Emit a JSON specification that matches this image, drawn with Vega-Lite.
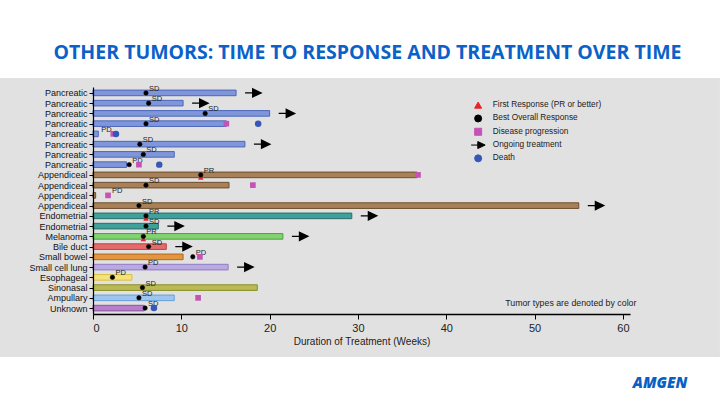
{
  "$schema": "https://vega.github.io/schema/vega-lite/v6.json",
  "width": 537,
  "height": 227,
  "autosize": {"type": "none"},
  "padding": {"left": 93, "top": 87, "right": 90, "bottom": 91},
  "background": "white",
  "title": {
    "text": "OTHER TUMORS: TIME TO RESPONSE AND TREATMENT OVER TIME",
    "font": "Open Sans", "fontSize": 19.5, "fontWeight": "bold", "color": "#0a62c8",
    "anchor": "middle", "frame": "group", "baseline": "alphabetic", "offset": 0, "dx": 6
  },
  "config": {
    "view": {"stroke": null},
    "font": "Liberation Sans",
    "axisX": {
      "labelFont": "Liberation Sans", "labelFontSize": 11, "labelColor": "#222",
      "titleFont": "Liberation Sans", "titleFontSize": 10, "titleFontWeight": "normal", "titleColor": "#222",
      "tickSize": 5, "tickColor": "#000", "domainColor": "#000", "domainWidth": 1.5,
      "labelPadding": 3, "titlePadding": 3, "grid": false
    },
    "axisY": {
      "labelFont": "Liberation Sans", "labelFontSize": 9, "labelColor": "#111",
      "tickSize": 4, "tickColor": "#000", "domainColor": "#000", "domainWidth": 1.2,
      "labelPadding": 2, "grid": false, "labelOverlap": false, "labelBound": false, "labelFlush": false
    },
    "legend": {
      "labelFont": "Liberation Sans", "labelFontSize": 8.3, "labelColor": "#222",
      "symbolStrokeWidth": 1, "rowPadding": 1.3, "labelOffset": 10.5, "padding": 0, "symbolSize": 49
    }
  },
  "datasets": {
    "bars": [
      {"row": 1, "tumor": "Pancreatic", "week": 16.2},
      {"row": 2, "tumor": "Pancreatic", "week": 10.2},
      {"row": 3, "tumor": "Pancreatic", "week": 20.0},
      {"row": 4, "tumor": "Pancreatic", "week": 15.1},
      {"row": 5, "tumor": "Pancreatic", "week": 0.6},
      {"row": 6, "tumor": "Pancreatic", "week": 17.2},
      {"row": 7, "tumor": "Pancreatic", "week": 9.2},
      {"row": 8, "tumor": "Pancreatic", "week": 3.8},
      {"row": 9, "tumor": "Appendiceal", "week": 36.7},
      {"row": 10, "tumor": "Appendiceal", "week": 15.4},
      {"row": 11, "tumor": "Appendiceal", "week": 0.3},
      {"row": 12, "tumor": "Appendiceal", "week": 55.0},
      {"row": 13, "tumor": "Endometrial", "week": 29.3},
      {"row": 14, "tumor": "Endometrial", "week": 7.4},
      {"row": 15, "tumor": "Melanoma", "week": 21.5},
      {"row": 16, "tumor": "Bile duct", "week": 8.3},
      {"row": 17, "tumor": "Small bowel", "week": 10.2},
      {"row": 18, "tumor": "Small cell lung", "week": 15.3},
      {"row": 19, "tumor": "Esophageal", "week": 4.4},
      {"row": 20, "tumor": "Sinonasal", "week": 18.6},
      {"row": 21, "tumor": "Ampullary", "week": 9.2},
      {"row": 22, "tumor": "Unknown", "week": 5.8}
    ],
    "labels": [
      {"row": 1, "label": "SD", "week": 6.0},
      {"row": 2, "label": "SD", "week": 6.3},
      {"row": 3, "label": "SD", "week": 12.7},
      {"row": 4, "label": "SD", "week": 6.0},
      {"row": 5, "label": "PD", "week": 0.6},
      {"row": 6, "label": "SD", "week": 5.3},
      {"row": 7, "label": "SD", "week": 5.7},
      {"row": 8, "label": "PD", "week": 4.1},
      {"row": 9, "label": "PR", "week": 12.2},
      {"row": 10, "label": "SD", "week": 6.0},
      {"row": 11, "label": "PD", "week": 1.8},
      {"row": 12, "label": "SD", "week": 5.2},
      {"row": 13, "label": "PR", "week": 6.0},
      {"row": 14, "label": "SD", "week": 6.0},
      {"row": 15, "label": "PR", "week": 5.7},
      {"row": 16, "label": "SD", "week": 6.3},
      {"row": 17, "label": "PD", "week": 11.3},
      {"row": 18, "label": "PD", "week": 5.9},
      {"row": 19, "label": "PD", "week": 2.2},
      {"row": 20, "label": "SD", "week": 5.6},
      {"row": 21, "label": "SD", "week": 5.2},
      {"row": 22, "label": "SD", "week": 5.9}
    ],
    "events": [
      {"row": 9, "event": "First Response (PR or better)", "week": 12.2},
      {"row": 13, "event": "First Response (PR or better)", "week": 6.0},
      {"row": 15, "event": "First Response (PR or better)", "week": 5.7},
      {"row": 1, "event": "Best Overall Response", "week": 6.0},
      {"row": 2, "event": "Best Overall Response", "week": 6.3},
      {"row": 3, "event": "Best Overall Response", "week": 12.7},
      {"row": 4, "event": "Best Overall Response", "week": 6.0},
      {"row": 6, "event": "Best Overall Response", "week": 5.3},
      {"row": 7, "event": "Best Overall Response", "week": 5.7},
      {"row": 8, "event": "Best Overall Response", "week": 4.1},
      {"row": 9, "event": "Best Overall Response", "week": 12.2},
      {"row": 10, "event": "Best Overall Response", "week": 6.0},
      {"row": 12, "event": "Best Overall Response", "week": 5.2},
      {"row": 13, "event": "Best Overall Response", "week": 6.0},
      {"row": 14, "event": "Best Overall Response", "week": 6.0},
      {"row": 15, "event": "Best Overall Response", "week": 5.7},
      {"row": 16, "event": "Best Overall Response", "week": 6.3},
      {"row": 17, "event": "Best Overall Response", "week": 11.3},
      {"row": 18, "event": "Best Overall Response", "week": 5.9},
      {"row": 19, "event": "Best Overall Response", "week": 2.2},
      {"row": 20, "event": "Best Overall Response", "week": 5.6},
      {"row": 21, "event": "Best Overall Response", "week": 5.2},
      {"row": 22, "event": "Best Overall Response", "week": 5.9},
      {"row": 4, "event": "Disease progression", "week": 15.1},
      {"row": 5, "event": "Disease progression", "week": 2.3},
      {"row": 8, "event": "Disease progression", "week": 5.2},
      {"row": 9, "event": "Disease progression", "week": 36.8},
      {"row": 10, "event": "Disease progression", "week": 18.1},
      {"row": 11, "event": "Disease progression", "week": 1.7},
      {"row": 17, "event": "Disease progression", "week": 12.1},
      {"row": 21, "event": "Disease progression", "week": 11.9},
      {"row": 1, "event": "Ongoing treatment", "week": 16.2},
      {"row": 2, "event": "Ongoing treatment", "week": 10.2},
      {"row": 3, "event": "Ongoing treatment", "week": 20.0},
      {"row": 6, "event": "Ongoing treatment", "week": 17.2},
      {"row": 12, "event": "Ongoing treatment", "week": 55.0},
      {"row": 13, "event": "Ongoing treatment", "week": 29.3},
      {"row": 14, "event": "Ongoing treatment", "week": 7.4},
      {"row": 15, "event": "Ongoing treatment", "week": 21.5},
      {"row": 16, "event": "Ongoing treatment", "week": 8.3},
      {"row": 18, "event": "Ongoing treatment", "week": 15.3},
      {"row": 4, "event": "Death", "week": 18.7},
      {"row": 5, "event": "Death", "week": 2.6},
      {"row": 8, "event": "Death", "week": 7.5},
      {"row": 22, "event": "Death", "week": 6.9}
    ]
  },
  "layer": [
    {
      "data": {"values": [{"note": "Tumor types are denoted by color", "logo": "AMGEN"}]},
      "layer": [
        {
          "mark": {"type": "rect", "fill": "#e1e1e1"},
          "encoding": {
            "x": {"datum": -10.53, "type": "quantitative", "title": "Duration of Treatment (Weeks)", "scale": {"domain": [0, 60.8], "nice": false, "zero": false, "padding": 0}, "axis": {"orient": "bottom", "zindex": 2, "values": [0, 10, 20, 30, 40, 50, 60]}},
            "x2": {"datum": 70.98},
            "y": {"datum": -0.454, "type": "quantitative", "title": null, "scale": {"domain": [0.424, 22.576], "reverse": true, "nice": false, "zero": false, "padding": 0}, "axis": {"orient": "left", "zindex": 2, "values": [1,2,3,4,5,6,7,8,9,10,11,12,13,14,15,16,17,18,19,20,21,22], "labelExpr": "['Pancreatic','Pancreatic','Pancreatic','Pancreatic','Pancreatic','Pancreatic','Pancreatic','Pancreatic','Appendiceal','Appendiceal','Appendiceal','Appendiceal','Endometrial','Endometrial','Melanoma','Bile duct','Small bowel','Small cell lung','Esophageal','Sinonasal','Ampullary','Unknown'][datum.value - 1]"}},
            "y2": {"datum": 26.77}
          }
        },
        {
          "mark": {"type": "text", "fontSize": 8.8, "color": "#222", "font": "Liberation Sans", "baseline": "middle", "align": "center"},
          "encoding": {
            "x": {"datum": 54.1, "type": "quantitative", "title": "Duration of Treatment (Weeks)", "scale": {"domain": [0, 60.8], "nice": false, "zero": false, "padding": 0}, "axis": {"orient": "bottom", "zindex": 2, "values": [0, 10, 20, 30, 40, 50, 60]}},
            "y": {"datum": 21.5, "type": "quantitative", "title": null, "scale": {"domain": [0.424, 22.576], "reverse": true, "nice": false, "zero": false, "padding": 0}, "axis": {"orient": "left", "zindex": 2, "values": [1,2,3,4,5,6,7,8,9,10,11,12,13,14,15,16,17,18,19,20,21,22], "labelExpr": "['Pancreatic','Pancreatic','Pancreatic','Pancreatic','Pancreatic','Pancreatic','Pancreatic','Pancreatic','Appendiceal','Appendiceal','Appendiceal','Appendiceal','Endometrial','Endometrial','Melanoma','Bile duct','Small bowel','Small cell lung','Esophageal','Sinonasal','Ampullary','Unknown'][datum.value - 1]"}},
            "text": {"field": "note"}
          }
        },
        {
          "mark": {"type": "text", "fontSize": 15, "color": "#0a5fc4", "font": "Open Sans", "fontWeight": 800, "fontStyle": "italic", "baseline": "middle", "align": "center"},
          "encoding": {
            "x": {"datum": 64.2, "type": "quantitative", "title": "Duration of Treatment (Weeks)", "scale": {"domain": [0, 60.8], "nice": false, "zero": false, "padding": 0}, "axis": {"orient": "bottom", "zindex": 2, "values": [0, 10, 20, 30, 40, 50, 60]}},
            "y": {"datum": 29.3, "type": "quantitative", "title": null, "scale": {"domain": [0.424, 22.576], "reverse": true, "nice": false, "zero": false, "padding": 0}, "axis": {"orient": "left", "zindex": 2, "values": [1,2,3,4,5,6,7,8,9,10,11,12,13,14,15,16,17,18,19,20,21,22], "labelExpr": "['Pancreatic','Pancreatic','Pancreatic','Pancreatic','Pancreatic','Pancreatic','Pancreatic','Pancreatic','Appendiceal','Appendiceal','Appendiceal','Appendiceal','Endometrial','Endometrial','Melanoma','Bile duct','Small bowel','Small cell lung','Esophageal','Sinonasal','Ampullary','Unknown'][datum.value - 1]"}},
            "text": {"field": "logo"}
          }
        }
      ]
    },
    {
      "data": {"name": "bars"},
      "mark": {"type": "bar", "orient": "horizontal", "size": 5.6, "strokeWidth": 1},
      "encoding": {
        "x": {"field": "week", "type": "quantitative", "title": "Duration of Treatment (Weeks)", "scale": {"domain": [0, 60.8], "nice": false, "zero": false, "padding": 0}, "axis": {"orient": "bottom", "zindex": 2, "values": [0, 10, 20, 30, 40, 50, 60]}},
        "y": {"field": "row", "type": "quantitative", "title": null, "scale": {"domain": [0.424, 22.576], "reverse": true, "nice": false, "zero": false, "padding": 0}, "axis": {"orient": "left", "zindex": 2, "values": [1,2,3,4,5,6,7,8,9,10,11,12,13,14,15,16,17,18,19,20,21,22], "labelExpr": "['Pancreatic','Pancreatic','Pancreatic','Pancreatic','Pancreatic','Pancreatic','Pancreatic','Pancreatic','Appendiceal','Appendiceal','Appendiceal','Appendiceal','Endometrial','Endometrial','Melanoma','Bile duct','Small bowel','Small cell lung','Esophageal','Sinonasal','Ampullary','Unknown'][datum.value - 1]"}},
        "fill": {
          "field": "tumor", "type": "nominal", "legend": null,
          "scale": {
            "domain": ["Pancreatic","Appendiceal","Endometrial","Melanoma","Bile duct","Small bowel","Small cell lung","Esophageal","Sinonasal","Ampullary","Unknown"],
            "range": ["#8096da","#a98158","#40a09a","#80d370","#e56b6b","#e3963f","#baa9e0","#f5e27a","#b9bb52","#9cc6ef","#b67ecb"]
          }
        },
        "stroke": {
          "field": "tumor", "type": "nominal", "legend": null,
          "scale": {
            "domain": ["Pancreatic","Appendiceal","Endometrial","Melanoma","Bile duct","Small bowel","Small cell lung","Esophageal","Sinonasal","Ampullary","Unknown"],
            "range": ["#4d66bb","#6d4f2e","#2a6e6a","#4fa040","#b84444","#b06a1c","#8f7cc4","#d8c040","#8a8c2c","#6a9fd6","#8a55a0"]
          }
        }
      }
    },
    {
      "data": {"name": "labels"},
      "mark": {"type": "text", "fontSize": 7.5, "color": "#222", "font": "Liberation Sans", "align": "left", "baseline": "middle", "dx": 3, "dy": -4},
      "encoding": {
        "x": {"field": "week", "type": "quantitative", "title": "Duration of Treatment (Weeks)", "scale": {"domain": [0, 60.8], "nice": false, "zero": false, "padding": 0}, "axis": {"orient": "bottom", "zindex": 2, "values": [0, 10, 20, 30, 40, 50, 60]}},
        "y": {"field": "row", "type": "quantitative", "title": null, "scale": {"domain": [0.424, 22.576], "reverse": true, "nice": false, "zero": false, "padding": 0}, "axis": {"orient": "left", "zindex": 2, "values": [1,2,3,4,5,6,7,8,9,10,11,12,13,14,15,16,17,18,19,20,21,22], "labelExpr": "['Pancreatic','Pancreatic','Pancreatic','Pancreatic','Pancreatic','Pancreatic','Pancreatic','Pancreatic','Appendiceal','Appendiceal','Appendiceal','Appendiceal','Endometrial','Endometrial','Melanoma','Bile duct','Small bowel','Small cell lung','Esophageal','Sinonasal','Ampullary','Unknown'][datum.value - 1]"}},
        "text": {"field": "label"}
      }
    },
    {
      "data": {"name": "events"},
      "encoding": {
        "x": {"field": "week", "type": "quantitative", "title": "Duration of Treatment (Weeks)", "scale": {"domain": [0, 60.8], "nice": false, "zero": false, "padding": 0}, "axis": {"orient": "bottom", "zindex": 2, "values": [0, 10, 20, 30, 40, 50, 60]}},
        "y": {"field": "row", "type": "quantitative", "title": null, "scale": {"domain": [0.424, 22.576], "reverse": true, "nice": false, "zero": false, "padding": 0}, "axis": {"orient": "left", "zindex": 2, "values": [1,2,3,4,5,6,7,8,9,10,11,12,13,14,15,16,17,18,19,20,21,22], "labelExpr": "['Pancreatic','Pancreatic','Pancreatic','Pancreatic','Pancreatic','Pancreatic','Pancreatic','Pancreatic','Appendiceal','Appendiceal','Appendiceal','Appendiceal','Endometrial','Endometrial','Melanoma','Bile duct','Small bowel','Small cell lung','Esophageal','Sinonasal','Ampullary','Unknown'][datum.value - 1]"}},
        "shape": {
          "field": "event", "type": "nominal",
          "scale": {
            "domain": ["First Response (PR or better)","Best Overall Response","Disease progression","Ongoing treatment","Death"],
            "range": ["triangle-up","circle","square","M-2,0L0,0M-0.1,-1L2,0L-0.1,1Z","circle"]
          },
          "legend": {
            "orient": "none", "legendX": 381, "legendY": 14, "title": null, "direction": "vertical",
            "encode": {"symbols": {"update": {"size": {"signal": "datum.value === 'Ongoing treatment' ? 64 : datum.value === 'Best Overall Response' ? 16 : 30"}}}}
          }
        },
        "fill": {
          "field": "event", "type": "nominal",
          "scale": {
            "domain": ["First Response (PR or better)","Best Overall Response","Disease progression","Ongoing treatment","Death"],
            "range": ["#e8232a","#000000","#c552b4","#000000","#3656b8"]
          },
          "legend": {
            "orient": "none", "legendX": 381, "legendY": 14, "title": null, "direction": "vertical",
            "encode": {"symbols": {"update": {"size": {"signal": "datum.value === 'Ongoing treatment' ? 64 : datum.value === 'Best Overall Response' ? 16 : 30"}}}}
          }
        },
        "stroke": {
          "field": "event", "type": "nominal",
          "scale": {
            "domain": ["First Response (PR or better)","Best Overall Response","Disease progression","Ongoing treatment","Death"],
            "range": ["#e8232a","#000000","#c552b4","#000000","#3656b8"]
          },
          "legend": {
            "orient": "none", "legendX": 381, "legendY": 14, "title": null, "direction": "vertical",
            "encode": {"symbols": {"update": {"size": {"signal": "datum.value === 'Ongoing treatment' ? 64 : datum.value === 'Best Overall Response' ? 16 : 30"}}}}
          }
        }
      },
      "layer": [
        {
          "transform": [{"filter": "datum.event === 'First Response (PR or better)'"}],
          "mark": {"type": "point", "filled": true, "opacity": 1, "strokeWidth": 0, "size": 30, "yOffset": 2.5}
        },
        {
          "transform": [{"filter": "datum.event === 'Best Overall Response'"}],
          "mark": {"type": "point", "filled": true, "opacity": 1, "strokeWidth": 0.5, "size": 20}
        },
        {
          "transform": [{"filter": "datum.event === 'Disease progression'"}],
          "mark": {"type": "point", "filled": true, "opacity": 1, "strokeWidth": 0, "size": 32}
        },
        {
          "transform": [{"filter": "datum.event === 'Ongoing treatment'"}],
          "mark": {"type": "point", "filled": true, "opacity": 1, "strokeWidth": 1.3, "size": 64, "xOffset": 17}
        },
        {
          "transform": [{"filter": "datum.event === 'Death'"}],
          "mark": {"type": "point", "filled": true, "opacity": 1, "strokeWidth": 0, "size": 42}
        }
      ]
    }
  ],
  "resolve": {"scale": {"fill": "independent", "stroke": "independent", "shape": "independent"}}
}
